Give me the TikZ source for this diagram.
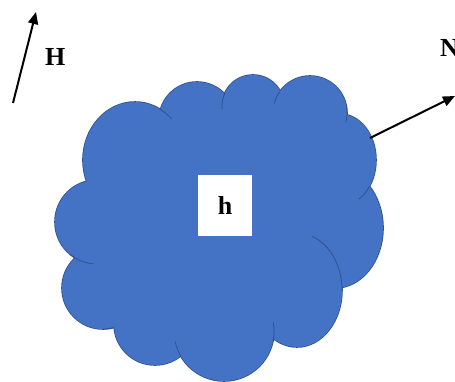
\documentclass[tikz,border=0pt]{standalone}
\usepackage{fontspec}
\setmainfont{Liberation Serif}
\usetikzlibrary{arrows.meta}
\definecolor{cloudfill}{HTML}{4472C4}
\definecolor{cloudline}{HTML}{2F528F}
\begin{document}
\begin{tikzpicture}[x=1pt,y=1pt,
  puffline/.style={fill=cloudfill,draw=cloudline,line width=1.6pt},
  pufffill/.style={fill=cloudfill},
  tail/.style={draw=cloudline,line width=0.8pt},
  vec/.style={line width=2pt,-{Triangle[length=12pt,width=10pt]}},
  lbl/.style={font=\fontsize{26}{30}\selectfont\bfseries,inner sep=0pt},
]
\useasboundingbox (0,-382) rectangle (455,0);
\clip (0,-382) rectangle (455,0);
% cloud: union of puffs
\foreach \cx/\cy/\rx/\ry in {97/222/42/42, 135/160/52/58, 197/120/38/38, 253/106/31/31,
  310/113/37/37, 340/160/36/46, 335/228/48/60, 297/290/45/57, 224/331/50/50,
  155/324/41/41, 103/288/41/41}
  \path[puffline] (\cx,-\cy) ellipse[x radius=\rx, y radius=\ry];
\foreach \cx/\cy/\rx/\ry in {97/222/42/42, 135/160/52/58, 197/120/38/38, 253/106/31/31,
  310/113/37/37, 340/160/36/46, 335/228/48/60, 297/290/45/57, 224/331/50/50,
  155/324/41/41, 103/288/41/41, 220/225/130/110}
  \path[pufffill] (\cx,-\cy) ellipse[x radius=\rx, y radius=\ry];
% inner arcs of the cloud
\draw[tail] (135,-160) ++(62:52 and 58) arc[start angle=62,end angle=45,x radius=52,y radius=58];
\draw[tail] (253,-106) ++(155:31) arc[start angle=155,end angle=185,radius=31];
\draw[tail] (310,-113) ++(145:37) arc[start angle=145,end angle=165,radius=37];
\draw[tail] (310,-113) ++(10:37) arc[start angle=10,end angle=-15,radius=37];
\draw[tail] (340,-160) ++(-35:36 and 46) arc[start angle=-35,end angle=-58,x radius=36,y radius=46];
\draw[tail] (297,-290) ++(70:45 and 57) arc[start angle=70,end angle=0,x radius=45,y radius=57];
\draw[tail] (224,-331) ++(-12:50) arc[start angle=-12,end angle=10,radius=50];
\draw[tail] (224,-331) ++(211:50) arc[start angle=211,end angle=192,radius=50];
\draw[tail] (103,-288) ++(-90:41) arc[start angle=-90,end angle=-75,radius=41];
\draw[tail] (97,-222) ++(230:42) arc[start angle=230,end angle=265,radius=42];
% box and labels
\node[fill=white, minimum width=54pt, minimum height=61pt, inner sep=0pt,
  font=\fontsize{26}{30}\selectfont\bfseries] (hbox) at (225,-205.5) {h};
\node[lbl, anchor=base west] (H) at (45,-66) {H};
\node[lbl, anchor=base west] (N) at (440,-57) {N};
% vectors
\coordinate (h0) at (13,-103);
\coordinate (h1) at (36,-12);
\coordinate (n0) at (370,-138);
\coordinate (n1) at (455,-96);
\draw[vec] (h0) -- (h1);
\draw[vec] (n0) -- (n1);
\end{tikzpicture}
\end{document}
